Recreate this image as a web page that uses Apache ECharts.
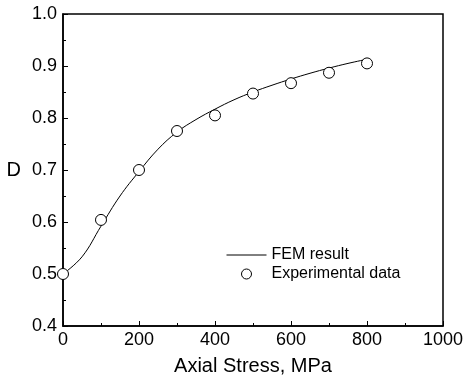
<!DOCTYPE html>
<html>
<head>
<meta charset="utf-8">
<script src="https://cdn.jsdelivr.net/npm/echarts@6/dist/echarts.min.js"></script>
<style>
html,body{margin:0;padding:0;background:#fff;}
#c{width:470px;height:381px;}
</style>
</head>
<body>
<div id="c"></div>
<script>
// Experimental data
var expX = [0, 100, 200, 300, 400, 500, 600, 700, 800];
var expD = [0.500, 0.604, 0.700, 0.775, 0.805, 0.847, 0.867, 0.887, 0.905];
// FEM result curve
var femX = [0, 50, 100, 150, 200, 250, 300, 350, 400, 450, 500, 550, 600, 650, 700, 750, 800];
var femD = [0.500, 0.533, 0.592, 0.650, 0.697, 0.740, 0.773, 0.797, 0.817, 0.835, 0.850, 0.863, 0.875, 0.886, 0.896, 0.905, 0.913];
var seriesNames = ['FEM result', 'Experimental data'];
var xTitle = 'Axial Stress, MPa';
var yTitle = 'D';

var femData = femX.map(function(x, i){ return [x, femD[i]]; });
var expData = expX.map(function(x, i){ return [x, expD[i]]; });

var font = '"Liberation Sans", Arial, sans-serif';
var chart = echarts.init(document.getElementById('c'), null, {renderer:'canvas'});
chart.setOption({
  animation: false,
  backgroundColor: '#fff',
  grid: {left: 63, right: 27, top: 14, bottom: 49, show: true, borderColor: '#000', borderWidth: 1.5, backgroundColor: 'transparent'},
  legend: {
    orient: 'vertical', left: 226, top: 247, padding: 0,
    itemWidth: 40, itemHeight: 10, itemGap: 3, textGap: 6,
    textStyle: {fontFamily: font, fontSize: 16, color: '#000'},
    data: [
      {name: seriesNames[0], itemStyle: {opacity: 0}, lineStyle: {color: '#000', width: 1}},
      {name: seriesNames[1], itemStyle: {color: '#fff', borderColor: '#000', borderWidth: 1}}
    ]
  },
  xAxis: {
    type: 'value', min: 0, max: 1000, interval: 200,
    name: xTitle, nameLocation: 'middle', nameGap: 30,
    nameTextStyle: {fontFamily: font, fontSize: 20, color: '#000'},
    axisLine: {show: true, lineStyle: {color: '#000', width: 1.5}},
    axisTick: {show: true, inside: true, length: 5, lineStyle: {color: '#000', width: 1}},
    minorTick: {show: true, splitNumber: 2, length: 3, lineStyle: {color: '#000', width: 1}},
    axisLabel: {fontFamily: font, fontSize: 18, color: '#000', margin: 5,
      formatter: function(v){ return String(v); }},
    splitLine: {show: false}
  },
  yAxis: {
    type: 'value', min: 0.4, max: 1.0, interval: 0.1,
    name: yTitle, nameLocation: 'middle', nameRotate: 0, nameGap: 42,
    nameTextStyle: {fontFamily: font, fontSize: 20, color: '#000'},
    axisLine: {show: true, lineStyle: {color: '#000', width: 1.5}},
    axisTick: {show: true, inside: true, length: 5, lineStyle: {color: '#000', width: 1}},
    minorTick: {show: true, splitNumber: 2, length: 3, lineStyle: {color: '#000', width: 1}},
    axisLabel: {fontFamily: font, fontSize: 18, color: '#000', margin: 6,
      formatter: function(v){ return v.toFixed(1); }},
    splitLine: {show: false}
  },
  series: [
    {
      name: seriesNames[0], type: 'line', data: femData, smooth: 0.4,
      showSymbol: false, symbol: 'none',
      lineStyle: {color: '#000', width: 1}, itemStyle: {color: '#000'}, z: 2
    },
    {
      name: seriesNames[1], type: 'scatter', data: expData, symbol: 'circle', symbolSize: 11,
      itemStyle: {color: '#fff', borderColor: '#000', borderWidth: 1, opacity: 1}, z: 3
    }
  ]
});
</script>
</body>
</html>
